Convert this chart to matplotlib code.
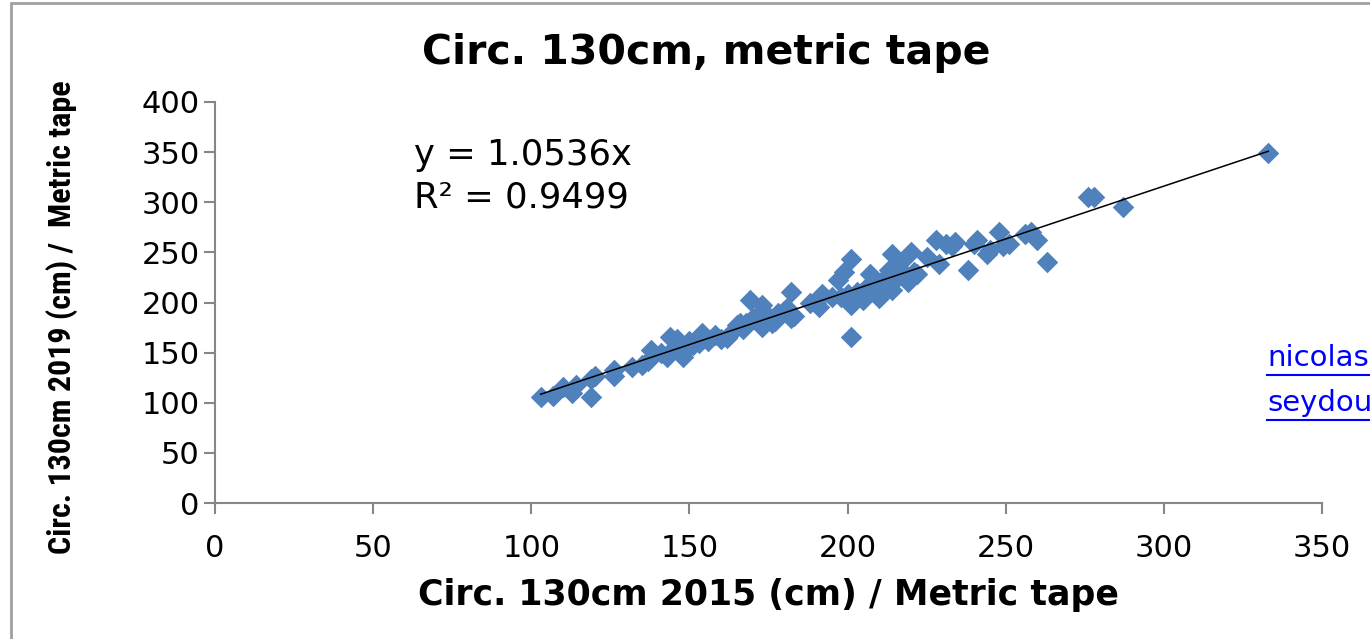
import matplotlib
matplotlib.use("Agg")
import matplotlib.pyplot as plt
from matplotlib import font_manager
from matplotlib.patches import Rectangle
from matplotlib.lines import Line2D

# circumference at 130cm, 2015 vs 2019 (cm)
circ_2015 = [103, 107, 110, 113, 114, 119, 120, 119, 126, 126, 132, 135, 137, 138,
             141, 143, 144, 145, 146, 148, 149, 150, 151, 153, 154, 155, 156, 158,
             160, 162, 163, 165, 166, 167, 168, 169, 170, 171, 172, 173, 173, 174,
             175, 176, 177, 178, 180, 181, 182, 182, 183, 188, 190, 191, 192, 195,
             197, 198, 199, 200, 201, 201, 201, 203, 205, 206, 207, 208, 209, 210,
             211, 212, 213, 214, 214, 215, 216, 217, 218, 219, 220, 221, 222, 225,
             228, 229, 231, 233, 234, 238, 240, 241, 244, 245, 248, 249, 251, 256,
             258, 260, 263, 276, 278, 287, 333]
circ_2019 = [106, 107, 116, 110, 118, 106, 127, 124, 127, 133, 136, 138, 142, 153,
             150, 146, 166, 155, 164, 146, 153, 162, 158, 160, 170, 166, 162, 168,
             164, 165, 170, 178, 180, 174, 180, 202, 185, 183, 188, 176, 198, 180,
             186, 180, 182, 190, 192, 195, 210, 185, 187, 200, 200, 196, 208, 205,
             222, 205, 230, 208, 243, 198, 166, 210, 202, 215, 228, 220, 210, 204,
             215, 225, 232, 248, 212, 235, 225, 240, 228, 220, 250, 230, 228, 245,
             262, 238, 258, 256, 260, 232, 258, 262, 248, 252, 270, 256, 258, 268,
             270, 262, 240, 305, 305, 295, 349]

slope = 1.0536
r2 = 0.9499

x_ticks = [0, 50, 100, 150, 200, 250, 300, 350]
y_ticks = [0, 50, 100, 150, 200, 250, 300, 350, 400]

blue = "#4F81BD"
grey = "#868686"

# narrowest bold face available for the vertical axis title
names = {f.name for f in font_manager.fontManager.ttflist}
ylab_font, ylab_size = "DejaVu Sans", 17
for fam, size in (("Roboto Condensed", 23), ("Liberation Sans Narrow", 22),
                  ("Roboto", 20)):
    if fam in names:
        ylab_font, ylab_size = fam, size
        break

fig = plt.figure(figsize=(13.7, 6.39), dpi=100)
ax = fig.add_axes([0.1569, 0.2128, 0.8081, 0.6276])

ax.scatter(circ_2015, circ_2019, marker="D", s=120, color=blue, linewidths=0, zorder=3)
xs = [min(circ_2015), max(circ_2015)]
ax.plot(xs, [slope * v for v in xs], color="black", lw=1.1, zorder=4)

ax.set_xlim(0, 350)
ax.set_ylim(0, 400)
ax.set_xticks(x_ticks)
ax.set_yticks(y_ticks)
for side in ("top", "right"):
    ax.spines[side].set_visible(False)
for side in ("left", "bottom"):
    ax.spines[side].set_color(grey)
    ax.spines[side].set_linewidth(1.5)
ax.tick_params(axis="both", direction="out", length=8, width=1.5, color=grey,
               labelsize=22)
ax.tick_params(axis="x", pad=14)
ax.tick_params(axis="y", pad=3)

# chart title is centred on the whole chart area, not the plot area
ax.set_title("Circ. 130cm, metric tape", fontsize=29.5, fontweight="bold", pad=27,
             x=0.4435)
ax.set_xlabel("Circ. 130cm 2015 (cm) / Metric tape", fontsize=25, fontweight="bold",
              labelpad=11)
ax.set_ylabel("Circ. 130cm 2019 (cm) /  Metric tape", fontsize=ylab_size,
              fontweight="bold", family=ylab_font, labelpad=46)
ax.yaxis.label.set_y(0.463)

ax.text(63, 347, f"y = {slope}x", fontsize=25.5, va="center")
ax.text(63, 305, f"R² = {r2}", fontsize=25.5, va="center")

# link text in the right margin
link_x = 1267 / 1370
for txt, ypx in (("nicolas", 358), ("seydou", 403)):
    fy = 1 - ypx / 639
    fig.text(link_x, fy, txt, color="#0000FF", fontsize=21, va="center")
    fig.add_artist(Line2D([link_x, 1.0], [fy - 0.027, fy - 0.027],
                          transform=fig.transFigure, color="#0000FF", lw=1.5))

# outer chart frame
fig.add_artist(Rectangle((11 / 1370, -0.01), 1.0, 1 - 3 / 639 + 0.01,
                         transform=fig.transFigure, fill=False,
                         edgecolor="#A0A0A0", lw=2))

fig.savefig("out.png", dpi=100)
